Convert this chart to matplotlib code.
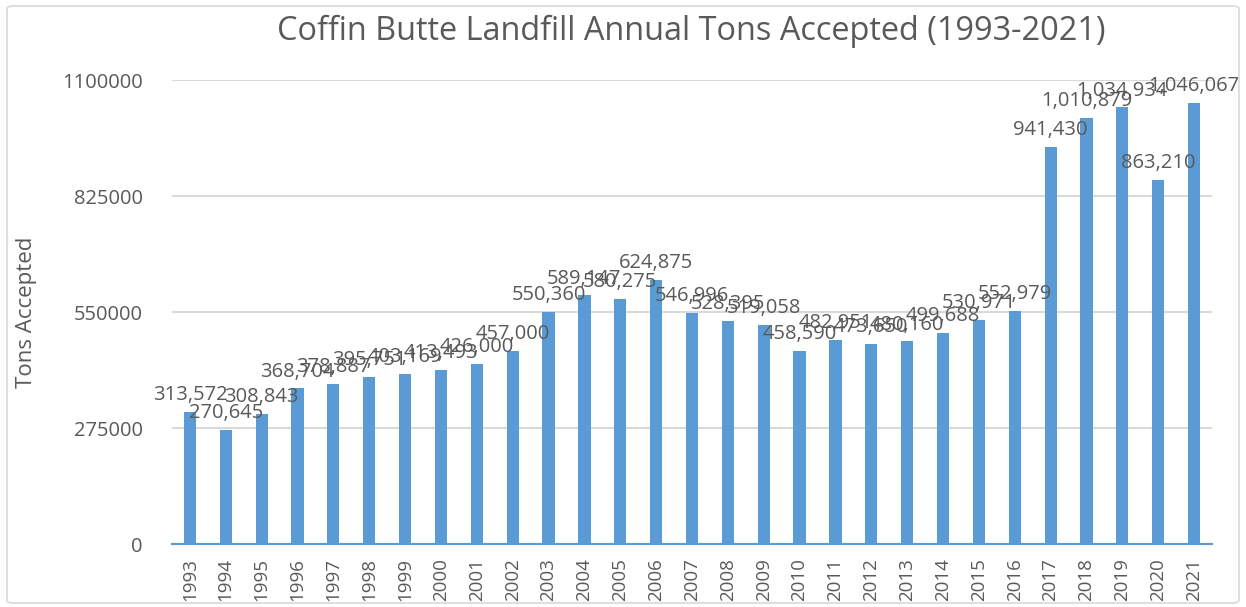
import matplotlib
matplotlib.use("Agg")
import matplotlib.pyplot as plt
from matplotlib.patches import FancyBboxPatch

years = [str(y) for y in range(1993, 2022)]
tons = [313572, 270645, 308843, 368704, 378887, 395751, 403169, 413493, 426000,
        457000, 550360, 589147, 580275, 624875, 546996, 528395, 519058, 458590,
        482951, 473650, 480160, 499688, 530971, 552979, 941430, 1010879, 1034934,
        863210, 1046067]
yticks = [0, 275000, 550000, 825000, 1100000]

plt.rcParams['font.family'] = ['Open Sans', 'DejaVu Sans']
txt = '#595959'
fig = plt.figure(figsize=(12.46, 6.07), dpi=100)
ax = fig.add_axes([172/1246, 1-544/607, (1212-172)/1246, (544-80)/607])

x = range(len(years))
ax.bar(x, tons, width=0.34, color='#5B9BD5', zorder=3)
for i, v in zip(x, tons):
    ax.annotate(f"{v:,}", (i, v), xytext=(0, 5), textcoords='offset points',
                ha='center', va='bottom', fontsize=14.5, color=txt, zorder=4,
                annotation_clip=False)

ax.set_ylim(0, 1100000)
ax.set_xlim(-0.5, len(years) - 0.5)
ax.set_yticks(yticks)
ax.set_yticklabels([str(t) for t in yticks], fontsize=14.5, color=txt)
ax.set_xticks(list(x))
ax.set_xticklabels(years, rotation=90, fontsize=13.5, color=txt)
ax.tick_params(length=0, pad=21, axis='y')
ax.tick_params(length=0, pad=10, axis='x')
ax.grid(axis='y', color='#D9D9D9', lw=1.5, zorder=0)
for s in ['top', 'right', 'left']:
    ax.spines[s].set_visible(False)
ax.spines['bottom'].set_color('#5B9BD5')
ax.spines['bottom'].set_linewidth(1.5)
ax.spines['bottom'].set_zorder(5)

fig.text(27/1246, 1-312/607, 'Tons Accepted', rotation=90, ha='center', va='center',
         fontsize=16, color=txt)

fig.text(691/1246, 1-31/607, 'Coffin Butte Landfill Annual Tons Accepted (1993-2021)',
         ha='center', va='center', fontsize=23.4, color=txt)

border = FancyBboxPatch((7/1246, 4/607), 1232/1246, 597/607,
                        boxstyle='round,pad=0,rounding_size=0.005',
                        transform=fig.transFigure, fill=False, ec='#D9D9D9', lw=1.2)
fig.patches.append(border)

fig.savefig('out.png', dpi=100)
